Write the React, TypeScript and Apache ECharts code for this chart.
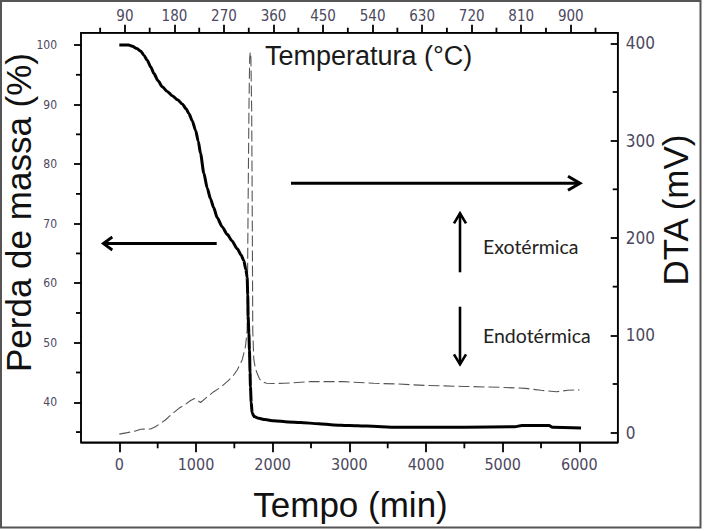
import React, { useEffect, useRef } from "react";
import * as echarts from "echarts";

// ---- Data ----
const tgTime = [0, 120, 169, 230, 277, 320, 365, 410, 451, 505, 560, 625, 690, 760, 820, 870, 907, 950, 994, 1030, 1059, 1102, 1146, 1189, 1230, 1277, 1340, 1407, 1470, 1537, 1590, 1623, 1650, 1667, 1675, 1680, 1690, 1697, 1705, 1710, 1720, 1732, 1760, 1818, 1900, 2014, 2200, 2362, 2600, 2795, 3000, 3230, 3621, 4000, 4500, 5156, 5250, 5605, 5650, 6022];
const tgMass = [100, 100, 99.8, 99.4, 99.0, 98.3, 97.4, 96.3, 95.2, 94.0, 93.0, 92.2, 91.5, 90.8, 90.1, 89.3, 88.5, 87.3, 85.7, 83.8, 81.8, 78.5, 76.0, 74.2, 72.7, 71.0, 69.5, 68.2, 67.1, 65.8, 64.7, 63.8, 62.3, 61.0, 58, 54.4, 51.5, 48.8, 45, 42.6, 40, 38.2, 37.6, 37.3, 37.1, 36.9, 36.7, 36.6, 36.4, 36.2, 36.1, 36.0, 35.8, 35.8, 35.8, 35.9, 36.1, 36.1, 35.8, 35.7];

const dtaTime = [0, 104, 200, 277, 408, 470, 538, 600, 668, 777, 860, 930, 980, 1020, 1059, 1124, 1232, 1320, 1407, 1480, 1537, 1602, 1645, 1667, 1680, 1690, 1700, 1708, 1716, 1726, 1733, 1740, 1754, 1775, 1797, 1830, 1863, 1920, 2000, 2144, 2492, 2926, 3317, 3621, 4000, 4500, 5000, 5300, 5500, 5700, 5850, 6000];
const dtaSignal = [-1.5, 0, 1.5, 3.5, 3.8, 6, 9.6, 13, 18, 25, 29, 33, 35, 33, 31, 35.3, 42.1, 46.5, 52.4, 58, 64.4, 74.7, 88.3, 105, 239, 330, 385, 391, 385, 330, 239, 105, 75, 66, 61, 55, 52.4, 50.8, 50.5, 50.7, 52.4, 52.4, 50.7, 50, 48.5, 47.5, 46.5, 45.5, 43.5, 42, 43.5, 44];

// ---- Axis ranges ----
const timeRange = [-500, 6500];
const tempRange = [10.2, 985.3];
const massRange = [33.28, 102.07];
const dtaRange = [-9.9, 410.9];

// ---- Tick values ----
const bottomMajorTicks = [0, 1000, 2000, 3000, 4000, 5000, 6000];
const bottomMinorTicks = [500, 1500, 2500, 3500, 4500, 5500];
const topMajorTicks = [90, 180, 270, 360, 450, 540, 630, 720, 810, 900];
const topMinorTicks = [45, 135, 225, 315, 405, 495, 585, 675, 765, 855, 945];
const leftMajorTicks = [40, 50, 60, 70, 80, 90, 100];
const leftMinorTicks = [35, 45, 55, 65, 75, 85, 95];
const rightMajorTicks = [0, 100, 200, 300, 400];
const rightMinorTicks = [50, 150, 250, 350];

// ---- Texts ----
const xTitle = "Tempo (min)";
const yLeftTitle = "Perda de massa (%)";
const yRightTitle = "DTA (mV)";
const topTitle = "Temperatura (°C)";
const exoLabel = "Exotérmica";
const endoLabel = "Endotérmica";

const NARROW = "'Liberation Sans Narrow', 'DejaVu Sans Condensed', 'Liberation Sans', Arial, sans-serif";
const SANS = "'Liberation Sans', Arial, sans-serif";
const LABEL_COLOR = "#4b4860";

function arrow(x1: number, y1: number, x2: number, y2: number, back: number, half: number, w: number) {
  const dx = x2 - x1, dy = y2 - y1;
  const len = Math.hypot(dx, dy);
  const ux = dx / len, uy = dy / len;
  const bx = x2 - ux * back, by = y2 - uy * back;
  const px = -uy * half, py = ux * half;
  return [
    { type: "line", shape: { x1, y1, x2, y2 }, style: { stroke: "#000", lineWidth: w }, silent: true },
    {
      type: "polyline",
      shape: { points: [[bx + px, by + py], [x2, y2], [bx - px, by - py]] },
      style: { stroke: "#000", lineWidth: w, fill: "none" },
      silent: true,
    },
  ];
}

// Minor tick marks as a custom series, placed through the axes' own scales.
function tickSeries(xi: number, yi: number, pts: number[][], dir: number[], len: number) {
  return {
    type: "custom",
    xAxisIndex: xi,
    yAxisIndex: yi,
    clip: false,
    silent: true,
    z: 5,
    data: pts,
    renderItem: (_p: any, api: any) => {
      const c = api.coord([api.value(0), api.value(1)]);
      return {
        type: "line",
        shape: { x1: c[0], y1: c[1], x2: c[0] + dir[0] * len, y2: c[1] + dir[1] * len },
        style: { stroke: "#000", lineWidth: 1.8 },
      };
    },
  };
}

export default function App() {
  const ref = useRef<HTMLDivElement>(null);
  useEffect(() => {
    document.body.style.margin = "0";
    if (!ref.current) return;
    const chart = echarts.init(ref.current, undefined, { renderer: "svg" });
    const line = { show: true, onZero: false, lineStyle: { color: "#000", width: 1.5 } };
    const fmt = (v: number) => String(v);
    const lab = (vals: number[], margin: number, size: number) => ({
      customValues: vals, formatter: fmt, margin, fontSize: size, color: LABEL_COLOR, fontFamily: NARROW,
    });
    const atick = (vals: number[], inside: boolean, len: number) => ({
      show: true, inside, length: len, customValues: vals, lineStyle: { color: "#000", width: 1.8 },
    });
    const option: any = {
      animation: false,
      backgroundColor: "#fff",
      grid: { left: 81, top: 32.7, right: 86.3, bottom: 88.7, show: true, borderColor: "#000", borderWidth: 1.5 },
      xAxis: [
        {
          type: "value", position: "bottom", min: timeRange[0], max: timeRange[1],
          axisLine: line, axisTick: atick(bottomMajorTicks, false, 10),
          axisLabel: lab(bottomMajorTicks, 14, 16), splitLine: { show: false },
        },
        {
          type: "value", position: "top", min: tempRange[0], max: tempRange[1],
          axisLine: line, axisTick: atick(topMajorTicks, false, 8),
          axisLabel: lab(topMajorTicks, 9, 15), splitLine: { show: false },
        },
      ],
      yAxis: [
        {
          type: "value", position: "left", min: massRange[0], max: massRange[1],
          axisLine: line, axisTick: atick(leftMajorTicks, false, 7),
          axisLabel: lab(leftMajorTicks, 24, 12), splitLine: { show: false },
        },
        {
          type: "value", position: "right", min: dtaRange[0], max: dtaRange[1],
          axisLine: line, axisTick: atick(rightMajorTicks, true, 7),
          axisLabel: lab(rightMajorTicks, 8, 17), splitLine: { show: false },
        },
      ],
      series: [
        {
          type: "line", xAxisIndex: 0, yAxisIndex: 1,
          data: dtaTime.map((t, i) => [t, dtaSignal[i]]),
          showSymbol: false, symbol: "none",
          lineStyle: { color: "#555", width: 1.1, type: [11, 4] },
          z: 2,
        },
        {
          type: "line", xAxisIndex: 0, yAxisIndex: 0,
          data: tgTime.map((t, i) => [t, tgMass[i]]),
          showSymbol: false, symbol: "none", smooth: 0.25, smoothMonotone: "x",
          lineStyle: { color: "#000", width: 3 },
          z: 3,
        },
        tickSeries(0, 0, bottomMinorTicks.map((v) => [v, massRange[0]]), [0, 1], 6),
        tickSeries(1, 0, topMinorTicks.map((v) => [v, massRange[1]]), [0, -1], 5),
        tickSeries(0, 0, leftMinorTicks.map((v) => [timeRange[0], v]), [-1, 0], 5),
        tickSeries(0, 1, rightMinorTicks.map((v) => [timeRange[1], v]), [-1, 0], 5),
      ],
      graphic: [
        { type: "rect", shape: { x: 1, y: 1, width: 699.5, height: 526.5 }, style: { stroke: "#555", lineWidth: 2, fill: "none" }, silent: true },
        { type: "text", x: 265, y: 55.5, style: { text: topTitle, font: `27px ${SANS}`, fill: "#1a1a1a", textAlign: "left", textVerticalAlign: "middle" } },
        { type: "text", x: 350.5, y: 504.5, style: { text: xTitle, font: `35px ${SANS}`, fill: "#111", textAlign: "center", textVerticalAlign: "middle" } },
        { type: "text", x: 18.4, y: 212.5, rotation: Math.PI / 2, style: { text: yLeftTitle, font: `35px ${SANS}`, fill: "#111", textAlign: "center", textVerticalAlign: "middle" } },
        { type: "text", x: 675.4, y: 210, rotation: Math.PI / 2, style: { text: yRightTitle, font: `35px ${SANS}`, fill: "#111", textAlign: "center", textVerticalAlign: "middle" } },
        { type: "text", x: 483, y: 246.5, style: { text: exoLabel, font: `19.5px Lato, 'Open Sans', sans-serif`, fill: "#222", textAlign: "left", textVerticalAlign: "middle" } },
        { type: "text", x: 483, y: 335.5, style: { text: endoLabel, font: `19.5px Lato, 'Open Sans', sans-serif`, fill: "#222", textAlign: "left", textVerticalAlign: "middle" } },
        ...arrow(291, 183.3, 580, 183.3, 12, 7, 3),
        ...arrow(216.7, 243.5, 103.3, 243.5, 9, 6.5, 2.8),
        ...arrow(460, 272.3, 460, 213.3, 10, 6, 2.6),
        ...arrow(460, 306.7, 460, 364.3, 10, 6, 2.6),
      ],
    };
    chart.setOption(option);
    return () => chart.dispose();
  }, []);
  return <div ref={ref} style={{ width: 704, height: 531 }} />;
}
